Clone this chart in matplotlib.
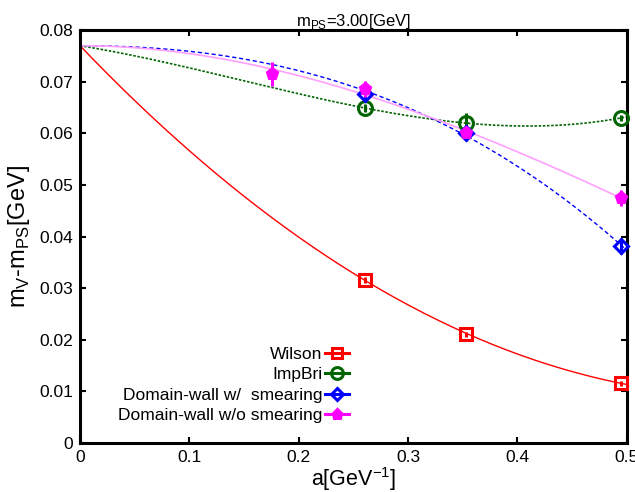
import numpy as np
import matplotlib
matplotlib.use('Agg')
import matplotlib.pyplot as plt
from matplotlib.lines import Line2D

plt.rcParams['font.family'] = ['Liberation Sans', 'DejaVu Sans']

# continuum value shared by all fits
a0_value = 0.077

# Wilson
wil_a = [0.261, 0.353, 0.495]
wil_m = [0.0316, 0.0211, 0.0116]
wil_e = [0.0006, 0.0005, 0.0005]

# ImpBri
imp_a = [0.261, 0.353, 0.495]
imp_m = [0.0649, 0.0620, 0.0630]
imp_e = [0.0008, 0.0020, 0.0005]

# Domain-wall w/ smearing
dws_a = [0.261, 0.353, 0.495]
dws_m = [0.0676, 0.0601, 0.0382]
dws_e = [0.0015, 0.0012, 0.0015]

# Domain-wall w/o smearing
dwo_a = [0.1755, 0.261, 0.353, 0.495]
dwo_m = [0.0715, 0.0686, 0.0600, 0.0475]
dwo_e = [0.0024, 0.0015, 0.0012, 0.0015]


def fit_curve(a, m, x, powers):
    # polynomial fit with intercept fixed at the continuum value
    a = np.asarray(a)
    A = np.column_stack([a**p for p in powers])
    coef, *_ = np.linalg.lstsq(A, np.asarray(m) - a0_value, rcond=None)
    return a0_value + sum(c * x**p for c, p in zip(coef, powers))


fig = plt.figure(figsize=(6.35, 4.92), dpi=100)
ax = fig.add_axes([0.126, 0.0996, 0.861, 0.839])

x = np.linspace(0, 0.5, 200)
ax.plot(x, fit_curve(wil_a, wil_m, x, [1, 2]), color='red', lw=1.0)
ax.plot(x, fit_curve(imp_a, imp_m, x, [1, 2, 3]), color='#006400', lw=1.2, ls=(0, (1.5, 1)))
ax.plot(x, fit_curve(dws_a, dws_m, x, [2, 3]), color='blue', lw=1.0, ls=(0, (3, 2)))
ax.plot(x, fit_curve(dwo_a, dwo_m, x, [2, 3]), color='#ffa0ff', lw=1.2)

sets = [
    (wil_a, wil_m, wil_e, 'red', 's', 'none', 9, 'Wilson'),
    (imp_a, imp_m, imp_e, '#006400', 'o', 'none', 10, 'ImpBri'),
    (dws_a, dws_m, dws_e, 'blue', 'D', 'none', 7.5, 'Domain-wall w/  smearing'),
    (dwo_a, dwo_m, dwo_e, 'magenta', 'p', 'magenta', 8, 'Domain-wall w/o smearing'),
]
handles = []
for a, m, e, c, mk, fc, ms, lab in sets:
    ax.errorbar(a, m, yerr=e, fmt=mk, color=c, mfc=fc, mec=c, ms=ms,
                mew=2.2, elinewidth=2.2, capsize=0, clip_on=False, zorder=3)
    handles.append(Line2D([], [], color=c, marker=mk, mfc=fc, mec=c, ms=ms * 0.85,
                          mew=2.2, lw=2.2, label=lab))

ax.legend(handles=handles, loc='upper right', bbox_to_anchor=(0.505, 0.25),
          frameon=False, markerfirst=False, handlelength=1.4, handletextpad=0.15,
          labelspacing=0.3, fontsize=12.5, borderaxespad=0)

ax.set_xlim(0, 0.5)
ax.set_ylim(0, 0.08)
ax.set_xticks([0, 0.1, 0.2, 0.3, 0.4, 0.5])
ax.set_xticklabels(['0', '0.1', '0.2', '0.3', '0.4', '0.5'])
ax.set_yticks(np.arange(0, 0.081, 0.01))
ax.set_yticklabels(['0', '0.01', '0.02', '0.03', '0.04', '0.05', '0.06', '0.07', '0.08'])
ax.tick_params(direction='in', length=4, width=1.5, labelsize=12.5,
               top=True, right=True, pad=5)
for s in ax.spines.values():
    s.set_linewidth(2.2)

ax.set_xlabel(r'a[GeV$^{\mathregular{-1}}$]', fontsize=15.5, labelpad=0)
ax.set_ylabel(r'm$_{\mathregular{V}}$-m$_{\mathregular{PS}}$[GeV]', fontsize=17, labelpad=5)
ax.set_title(r'm$_{\mathregular{PS}}$=3.00[GeV]', fontsize=12, pad=3)

fig.savefig('out.png', dpi=100)
